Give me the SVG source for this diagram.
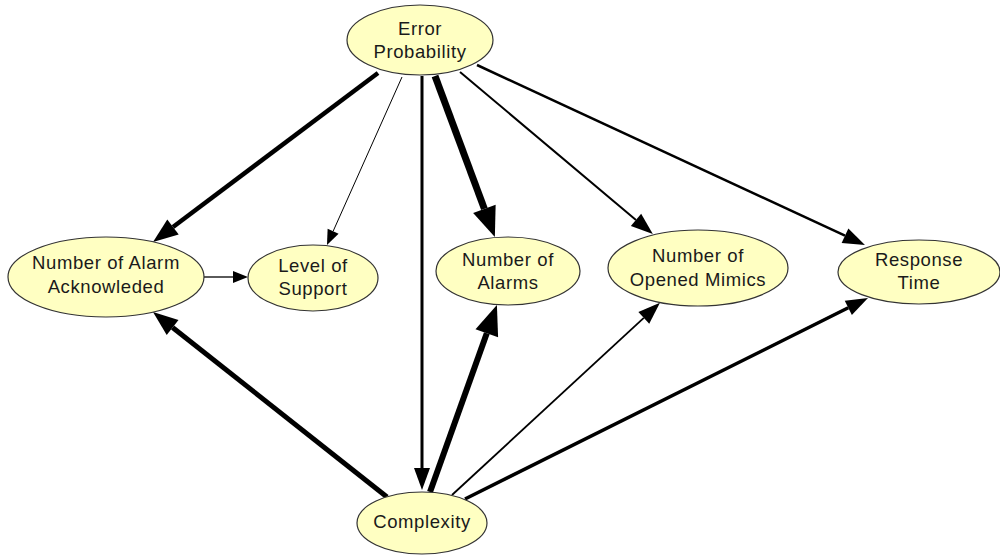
<svg xmlns="http://www.w3.org/2000/svg" width="1000" height="558" viewBox="0 0 1000 558">
<style>
.node ellipse{fill:#FFFFC2;stroke:#333;stroke-width:1.2}
.node text{font-family:"Liberation Sans",Arial,sans-serif;font-size:18.5px;letter-spacing:0.6px;fill:#1a1a1a;text-anchor:middle}
.edge{stroke:#000;fill:none;stroke-linecap:butt}
</style>
<defs>
<marker id="aXL" markerUnits="userSpaceOnUse" markerWidth="30" markerHeight="24" refX="0" refY="12" orient="auto" overflow="visible"><path d="M0,0 L30,12 L0,24 z" fill="#000"/></marker>
<marker id="aL" markerUnits="userSpaceOnUse" markerWidth="25" markerHeight="19" refX="0" refY="9.5" orient="auto" overflow="visible"><path d="M0,0 L25,9.5 L0,19 z" fill="#000"/></marker>
<marker id="aM" markerUnits="userSpaceOnUse" markerWidth="22" markerHeight="16" refX="0" refY="8" orient="auto" overflow="visible"><path d="M0,0 L22,8 L0,16 z" fill="#000"/></marker>
<marker id="aS" markerUnits="userSpaceOnUse" markerWidth="15" markerHeight="12" refX="0" refY="6" orient="auto" overflow="visible"><path d="M0,0 L15,6 L0,12 z" fill="#000"/></marker>
</defs>
<g id="connectors">
<line class="edge" x1="378" y1="73" x2="173" y2="227" stroke-width="4.5" marker-end="url(#aL)"/>
<line class="edge" x1="402" y1="77" x2="333.1" y2="231.3" stroke-width="1" marker-end="url(#aS)"/>
<line class="edge" x1="422" y1="76" x2="422" y2="468" stroke-width="3" marker-end="url(#aM)"/>
<line class="edge" x1="435" y1="76" x2="484.4" y2="208.9" stroke-width="7" marker-end="url(#aXL)"/>
<line class="edge" x1="460" y1="72" x2="636" y2="219.9" stroke-width="2" marker-end="url(#aM)"/>
<line class="edge" x1="477" y1="65" x2="845" y2="235.7" stroke-width="2.5" marker-end="url(#aM)"/>
<line class="edge" x1="204" y1="277" x2="233" y2="277" stroke-width="1.3" marker-end="url(#aS)"/>
<line class="edge" x1="387" y1="497" x2="172.6" y2="327.5" stroke-width="5" marker-end="url(#aL)"/>
<line class="edge" x1="430" y1="492" x2="486.8" y2="333.2" stroke-width="6" marker-end="url(#aXL)"/>
<line class="edge" x1="452" y1="495" x2="643.8" y2="317.8" stroke-width="1.8" marker-end="url(#aM)"/>
<line class="edge" x1="465" y1="499" x2="848.3" y2="307.8" stroke-width="3.5" marker-end="url(#aM)"/>
</g>
<g id="node-error-probability" class="node">
<ellipse cx="420" cy="40" rx="73" ry="35"/>
<text x="420" y="35">Error</text>
<text x="420" y="58">Probability</text>
</g>
<g id="node-alarm-acknowleded" class="node">
<ellipse cx="106" cy="277" rx="98" ry="40"/>
<text x="106" y="269">Number of Alarm</text>
<text x="106" y="293">Acknowleded</text>
</g>
<g id="node-level-of-support" class="node">
<ellipse cx="313" cy="278" rx="65" ry="33"/>
<text x="313" y="272">Level of</text>
<text x="313" y="295">Support</text>
</g>
<g id="node-number-of-alarms" class="node">
<ellipse cx="508" cy="271" rx="72" ry="34"/>
<text x="508" y="266">Number of</text>
<text x="508" y="289">Alarms</text>
</g>
<g id="node-opened-mimics" class="node">
<ellipse cx="698" cy="268" rx="90" ry="38"/>
<text x="698" y="262">Number of</text>
<text x="698" y="286">Opened Mimics</text>
</g>
<g id="node-response-time" class="node">
<ellipse cx="919" cy="272" rx="81" ry="32"/>
<text x="919" y="266">Response</text>
<text x="919" y="289">Time</text>
</g>
<g id="node-complexity" class="node">
<ellipse cx="422" cy="523" rx="65" ry="31"/>
<text x="422" y="528">Complexity</text>
</g>
</svg>
